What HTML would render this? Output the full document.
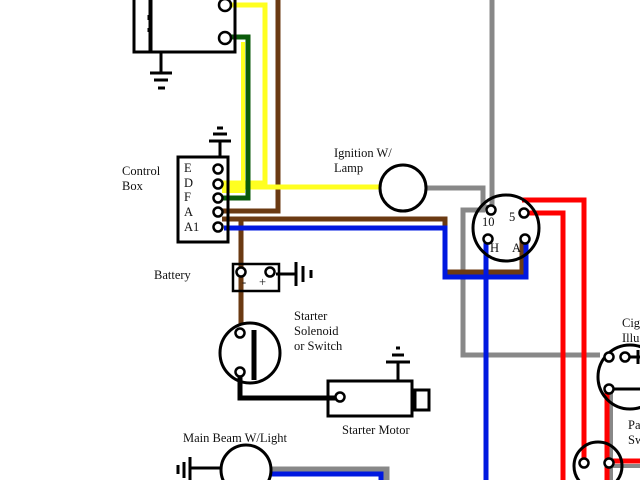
<!DOCTYPE html>
<html><head><style>
html,body{margin:0;padding:0;background:#fff;width:640px;height:480px;overflow:hidden}
svg{display:block}
text{font-family:"Liberation Serif",serif;font-size:12.5px;fill:#111}
</style></head><body>
<svg width="640" height="480" viewBox="0 0 640 480">
<g fill="none" stroke-linejoin="miter" stroke-linecap="butt">
<!-- wires -->
<polyline points="492,0 492,205" stroke="#888" stroke-width="5"/>
<polyline points="426,188 483,188 483,206 489,208" stroke="#888" stroke-width="5"/>
<polyline points="485,210 463,210 463,355 600,355" stroke="#888" stroke-width="5"/>
<polyline points="278,0 278,211 222,211" stroke="#6b3a12" stroke-width="5"/>
<polyline points="222,219 445,219 445,272 522,272 522,240" stroke="#6b3a12" stroke-width="5"/>
<polyline points="241,219 241,325" stroke="#6b3a12" stroke-width="5"/>
<polyline points="224,228 445,228 445,277 526,277 526,242" stroke="#0018e0" stroke-width="5"/>
<polyline points="486,240 486,480" stroke="#0018e0" stroke-width="5"/>
<polyline points="232,5 265,5 265,183 222,183" stroke="#ffff20" stroke-width="5"/>
<polyline points="222,187 380,187" stroke="#ffff20" stroke-width="5"/>
<polyline points="243,42 243,191 222,191" stroke="#ffff20" stroke-width="4"/>
<polyline points="231,37 248,37 248,198 222,198" stroke="#0a5a0a" stroke-width="5"/>
<polyline points="522,200 584,200 584,462" stroke="#f00" stroke-width="5"/>
<polyline points="527,213 563,213 563,480" stroke="#f00" stroke-width="5"/>
<polyline points="611,392 611,480" stroke="#888" stroke-width="4"/>
<polyline points="607,392 607,480" stroke="#f00" stroke-width="5"/>
<polyline points="611,466 640,466" stroke="#888" stroke-width="4"/>
<polyline points="611,461 640,461" stroke="#f00" stroke-width="5"/>
<polyline points="271,470 386,470 386,480" stroke="#888" stroke-width="7"/>
<polyline points="271,474 381,474 381,480" stroke="#0018e0" stroke-width="5"/>
<polyline points="240,376 240,398 336,398" stroke="#000" stroke-width="5"/>
</g>
<g fill="none" stroke="#000" stroke-width="3">
<!-- generator -->
<rect x="134" y="-5" width="16" height="57"/>
<rect x="151" y="-5" width="84" height="57"/>
<line x1="150" y1="15" x2="150" y2="20" stroke-width="5"/>
<line x1="150" y1="28" x2="150" y2="32" stroke-width="5"/>
<line x1="161" y1="52" x2="161" y2="73"/>
<line x1="150" y1="73" x2="172" y2="73"/>
<line x1="154" y1="80" x2="168" y2="80"/>
<line x1="158" y1="88" x2="165" y2="88"/>
<!-- control box -->
<rect x="178" y="157" width="50" height="85"/>
<line x1="220" y1="141" x2="220" y2="157"/>
<line x1="209" y1="141" x2="231" y2="141"/>
<line x1="213" y1="134" x2="227" y2="134"/>
<line x1="217" y1="128" x2="223" y2="128"/>
<!-- ignition lamp -->
<circle cx="403" cy="188" r="23"/>
<!-- ignition switch -->
<circle cx="506" cy="228" r="33"/>
<!-- battery -->
<rect x="233" y="264" width="46" height="27" stroke-width="2.5"/>
<line x1="276" y1="274" x2="295" y2="274"/>
<line x1="296" y1="262" x2="296" y2="286"/>
<line x1="303" y1="266" x2="303" y2="282"/>
<line x1="311" y1="270" x2="311" y2="278"/>
<!-- solenoid -->
<circle cx="250" cy="353" r="30"/>
<line x1="254" y1="330" x2="254" y2="380" stroke-width="5"/>
<!-- starter motor -->
<rect x="328" y="381" width="84" height="35"/>
<rect x="414" y="390" width="15" height="20"/>
<line x1="414" y1="389" x2="414" y2="411" stroke-width="5"/>
<line x1="398" y1="362" x2="398" y2="381"/>
<line x1="386" y1="362" x2="410" y2="362"/>
<line x1="392" y1="355" x2="404" y2="355"/>
<line x1="396" y1="348" x2="400" y2="348"/>
<!-- main beam -->
<circle cx="246" cy="470" r="25"/>
<line x1="190" y1="468" x2="221" y2="468"/>
<line x1="190" y1="457" x2="190" y2="480"/>
<line x1="184" y1="462" x2="184" y2="478"/>
<line x1="178" y1="465" x2="178" y2="474"/>
<!-- cig lighter -->
<circle cx="630" cy="377" r="32"/>
<line x1="625" y1="357" x2="640" y2="357"/>
<line x1="638" y1="350" x2="638" y2="364"/>
<line x1="609" y1="389" x2="640" y2="389"/>
<!-- panel switch -->
<circle cx="598" cy="466" r="24"/>
</g>
<g fill="#fff" stroke="#000" stroke-width="2.5">
<circle cx="225" cy="5" r="6"/><circle cx="225" cy="38" r="6"/>
<circle cx="218" cy="169" r="4.5"/><circle cx="218" cy="184" r="4.5"/><circle cx="218" cy="198" r="4.5"/><circle cx="218" cy="212" r="4.5"/><circle cx="218" cy="227" r="4.5"/>
<circle cx="491" cy="210" r="4.5"/><circle cx="524" cy="213" r="4.5"/><circle cx="488" cy="239" r="4.5"/><circle cx="525" cy="239" r="4.5"/>
<circle cx="241" cy="272" r="4.5"/><circle cx="270" cy="272" r="4.5"/>
<circle cx="240" cy="333" r="4.5"/><circle cx="240" cy="372" r="4.5"/>
<circle cx="340" cy="397" r="4.5"/>
<circle cx="609" cy="357" r="4.5"/><circle cx="625" cy="357" r="4.5"/><circle cx="609" cy="389" r="4.5"/>
<circle cx="584" cy="463" r="4.5"/><circle cx="609" cy="463" r="4.5"/>
</g>
<text x="122" y="175">Control</text><text x="122" y="190">Box</text>
<text x="184" y="172">E</text><text x="184" y="187">D</text><text x="184" y="201">F</text><text x="184" y="216">A</text><text x="184" y="231">A1</text>
<text x="334" y="157">Ignition W/</text><text x="334" y="172">Lamp</text>
<text x="482" y="226" font-size="11">10</text><text x="509" y="221" font-size="11">5</text>
<text x="490" y="252" font-size="11">H</text><text x="512" y="252" font-size="11">A</text>
<text x="154" y="279">Battery</text>
<text x="242" y="286" font-size="10">-</text><text x="259" y="286" font-size="10">+</text>
<text x="294" y="320">Starter</text><text x="294" y="335">Solenoid</text><text x="294" y="350">or Switch</text>
<text x="342" y="434">Starter Motor</text>
<text x="183" y="442">Main Beam W/Light</text>
<text x="622" y="327">Cig</text><text x="622" y="342">Illu</text>
<text x="628" y="429">Pa</text><text x="628" y="444">Sw</text>
</svg>
</body></html>
